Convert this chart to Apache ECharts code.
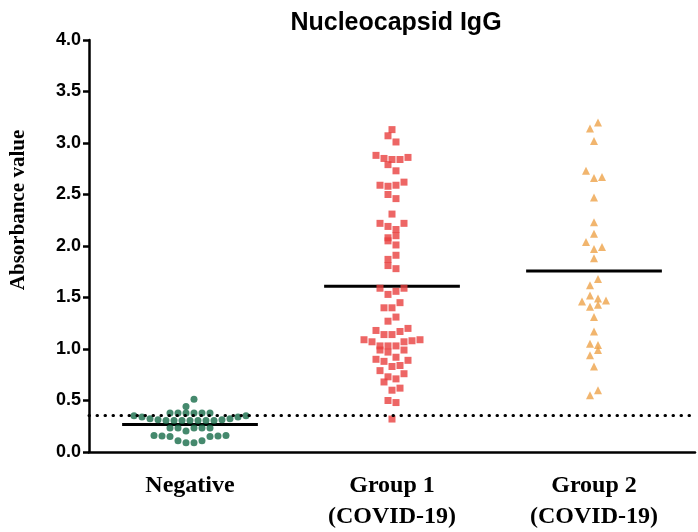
<!DOCTYPE html>
<html>
<head>
<meta charset="utf-8">
<script src="https://cdn.jsdelivr.net/npm/echarts@6/dist/echarts.min.js"></script>
<style>
html, body { margin: 0; padding: 0; background: #fff; }
#container { width: 698px; height: 532px; }
</style>
</head>
<body>
<div id="container"></div>
<script>
// categories and tick labels
var categories = ['Negative', 'Group 1\n(COVID-19)', 'Group 2\n(COVID-19)'];
var yTicks = [0, 0.5, 1.0, 1.5, 2.0, 2.5, 3.0, 3.5, 4.0];

// Negative: absorbance values and horizontal swarm slot
var negValues = [0.513, 0.442,
    0.378, 0.378, 0.378, 0.378, 0.378, 0.378,
    0.353, 0.340, 0.324, 0.314, 0.305, 0.305, 0.305, 0.305, 0.305, 0.305, 0.305, 0.314, 0.324, 0.340, 0.353,
    0.234, 0.234, 0.234, 0.234, 0.234, 0.205,
    0.160, 0.155, 0.150, 0.150, 0.155, 0.160,
    0.110, 0.090, 0.090, 0.110];
var negSlots = [1, -1,
    -5, -3, -1, 1, 3, 5,
    -14, -12, -10, -8, -6, -4, -2, 0, 2, 4, 6, 8, 10, 12, 14,
    -5, -3, 1, 3, 5, -1,
    -9, -7, -5, 5, 7, 9,
    -3, -1, 1, 3];

// Group 1 (COVID-19)
var g1Values = [3.13, 3.07, 3.01, 2.88, 2.85, 2.84, 2.84, 2.86, 2.79, 2.73,
    2.59, 2.58, 2.59, 2.62, 2.50, 2.46, 2.31, 2.22, 2.19, 2.16,
    2.22, 2.08, 2.05, 2.10, 2.01, 1.91, 1.87, 1.81, 1.78,
    1.59, 1.53, 1.56, 1.59, 1.40, 1.40, 1.45, 1.27, 1.31,
    1.18, 1.14, 1.14, 1.17, 1.20, 1.09, 1.07, 1.03, 0.99, 1.03,
    0.97, 1.03, 1.07, 1.08, 1.09, 0.99, 0.92, 0.90, 0.88, 0.83,
    0.84, 0.89, 0.79, 0.73, 0.71, 0.76, 0.68, 0.60, 0.62, 0.50,
    0.48, 0.32];
var g1Slots = [0, -1, 1, -4, -2, 0, 2, 4, -1, 1,
    -3, -1, 1, 3, -1, 1, 0, -3, -1, 1,
    3, -1, -1, 1, 1, 1, -1, -1, 1,
    -3, -1, 1, 3, -2, 0, 2, -1, 1,
    -4, -2, 0, 2, 4, -7, -5, -3, -3, -1,
    -1, 1, 3, 5, 7, 3, 1, -4, -2, 0,
    2, 4, -3, -1, 1, 3, -2, 0, 2, -1,
    1, 0];

// Group 2 (COVID-19)
var g2Values = [3.20, 3.14, 3.02, 2.73, 2.66, 2.67, 2.47, 2.23, 2.12, 2.04,
    1.97, 1.99, 1.88, 1.68, 1.62, 1.52, 1.49, 1.46, 1.47, 1.41,
    1.43, 1.31, 1.17, 1.05, 1.04, 0.99, 0.94, 0.83, 0.55, 0.60];
var g2Slots = [1, -1, 0, -2, 0, 2, 0, 0, 0, -2,
    0, 2, 0, 1, -1, -1, 1, -3, 3, -1,
    1, 0, 0, -1, 1, 1, -1, 0, -1, 1];

// group means (horizontal bars) and cut-off
var means = [0.266, 1.61, 1.757];
var cutoff = 0.365;

var slotWidth = 0.0198;   // one swarm slot, in category units
var meanHalf = 0.336;     // half length of mean bar

function swarm(values, slots, idx) {
    var out = [];
    for (var i = 0; i < values.length; i++) {
        out.push([idx + slots[i] * slotWidth, values[i]]);
    }
    return out;
}

var meanData = [];
for (var k = 0; k < means.length; k++) {
    meanData.push([k - meanHalf, means[k]]);
    meanData.push([k + meanHalf, means[k]]);
    meanData.push([k, null]);
}

var dom = document.getElementById('container');
var myChart = echarts.init(dom, null, { renderer: 'canvas' });
var option = {
    animation: false,
    backgroundColor: '#ffffff',
    title: {
        text: 'Nucleocapsid IgG',
        left: 391,
        textAlign: 'center',
        top: 6,
        textStyle: { fontFamily: 'Liberation Sans', fontWeight: 'bold', fontSize: 25, color: '#000' }
    },
    grid: { left: 88, right: 3, top: 40, bottom: 76 },
    xAxis: [{
        type: 'category',
        data: categories,
        boundaryGap: true,
        axisLine: { onZero: false, lineStyle: { color: '#000', width: 2.5 } },
        axisTick: { alignWithLabel: true, length: 7, lineStyle: { color: '#000', width: 2.5 } },
        axisLabel: {
            margin: 18,
            color: '#000',
            fontFamily: 'Liberation Serif',
            fontWeight: 'bold',
            fontSize: 24,
            lineHeight: 31
        },
        splitLine: { show: false }
    }, {
        type: 'value',
        min: -0.5,
        max: 2.5,
        show: false
    }],
    yAxis: {
        type: 'value',
        min: 0,
        max: 4,
        interval: 0.5,
        name: 'Absorbance value',
        nameLocation: 'middle',
        nameRotate: 90,
        nameGap: 60,
        nameTextStyle: {
            fontFamily: 'Liberation Serif',
            fontWeight: 'bold',
            fontSize: 21,
            color: '#000',
            padding: [0, 0, 0, 72]
        },
        axisLine: { show: true, onZero: false, lineStyle: { color: '#000', width: 2.5 } },
        axisTick: { show: true, length: 6, lineStyle: { color: '#000', width: 2.5 } },
        axisLabel: {
            margin: 8,
            color: '#000',
            fontFamily: 'Liberation Sans',
            fontWeight: 'bold',
            fontSize: 18,
            formatter: function (v) { return v.toFixed(1); }
        },
        splitLine: { show: false }
    },
    series: [{
        type: 'line',
        xAxisIndex: 1,
        data: meanData,
        connectNulls: false,
        showSymbol: false,
        symbol: 'none',
        lineStyle: { color: '#000', width: 3 },
        z: 3,
        markLine: {
            silent: true,
            symbol: 'none',
            label: { show: false },
            lineStyle: { color: '#000', width: 3, type: [0.5, 7.5], cap: 'round' },
            data: [{ yAxis: cutoff }]
        }
    }, {
        name: 'Negative',
        type: 'scatter',
        xAxisIndex: 1,
        symbol: 'circle',
        symbolSize: 7,
        itemStyle: { color: '#176b49' },
        data: swarm(negValues, negSlots, 0),
        z: 4
    }, {
        name: 'Group 1',
        type: 'scatter',
        xAxisIndex: 1,
        symbol: 'rect',
        symbolSize: 7,
        itemStyle: { color: '#e8403f' },
        data: swarm(g1Values, g1Slots, 1),
        z: 4
    }, {
        name: 'Group 2',
        type: 'scatter',
        xAxisIndex: 1,
        symbol: 'triangle',
        symbolSize: 8,
        itemStyle: { color: '#eda24a' },
        data: swarm(g2Values, g2Slots, 2),
        z: 4
    }]
};
if (option && typeof option === 'object') {
    myChart.setOption(option, true);
}
</script>
</body>
</html>
